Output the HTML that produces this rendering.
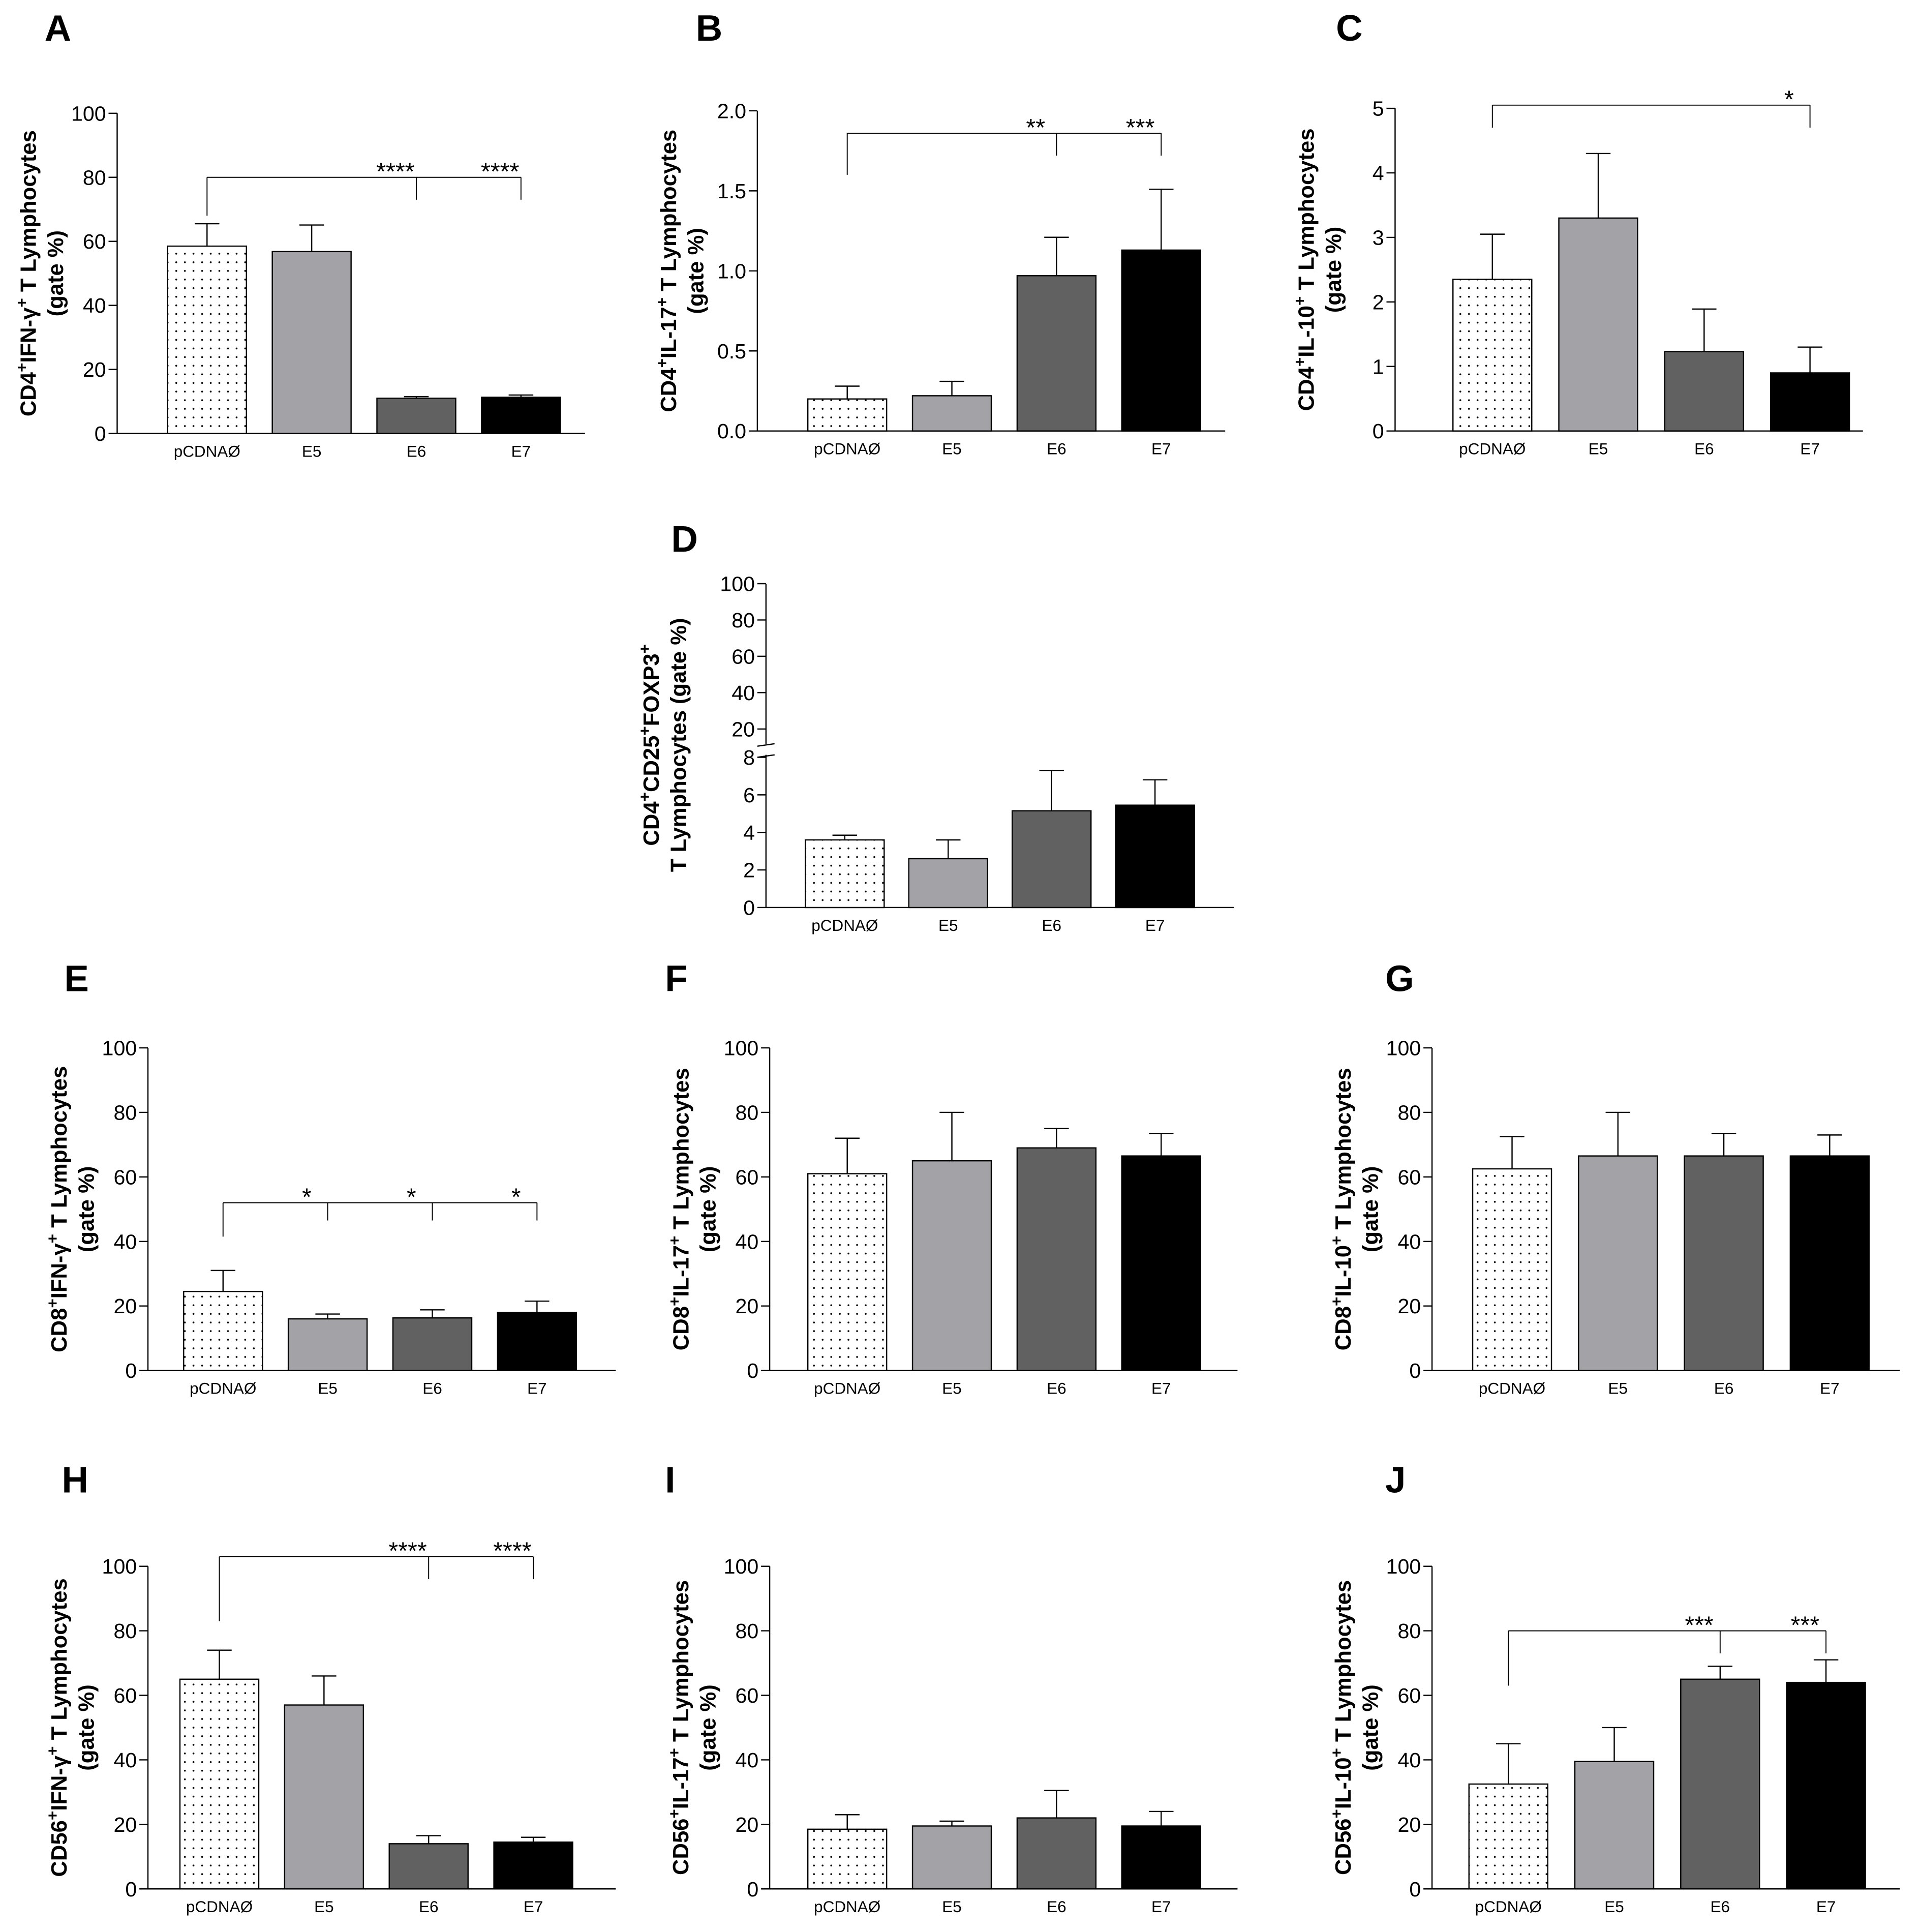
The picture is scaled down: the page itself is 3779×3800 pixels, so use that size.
<!DOCTYPE html>
<html><head><meta charset="utf-8"><style>
html,body{margin:0;padding:0;background:#fff}
svg{display:block}
text{font-family:"Liberation Sans",sans-serif}
</style></head><body>
<svg id="fig" xmlns="http://www.w3.org/2000/svg" width="3779" height="3800" viewBox="0 0 1560 1569">
<defs><pattern id="dots" width="7" height="7" patternUnits="userSpaceOnUse"><rect width="7" height="7" fill="#fff"/><circle cx="3" cy="3" r="0.75" fill="#000"/></pattern></defs>
</svg>
<script>
const cats=['pCDNAØ','E5','E6','E7'];
const aMeans=[58.5,56.8,11,11.3], aErrs=[7,8.3,0.5,0.7];
const bMeans=[0.2,0.22,0.97,1.13], bErrs=[0.08,0.09,0.24,0.38];
const cMeans=[2.35,3.3,1.23,0.9], cErrs=[0.7,1.0,0.66,0.4];
const dMeans=[3.6,2.6,5.15,5.45], dErrs=[0.25,1.0,2.15,1.35];
const eMeans=[24.5,16,16.3,18], eErrs=[6.5,1.5,2.5,3.5];
const fMeans=[61,65,69,66.5], fErrs=[11,15,6,7];
const gMeans=[62.5,66.5,66.5,66.5], gErrs=[10,13.5,7,6.5];
const hMeans=[65,57,14,14.5], hErrs=[9,9,2.5,1.5];
const iMeans=[18.5,19.5,22,19.5], iErrs=[4.5,1.5,8.5,4.5];
const jMeans=[32.5,39.5,65,64], jErrs=[12.5,10.5,4,7];
const pctTicks=[0,20,40,60,80,100];
const bTicks=['0.0','0.5','1.0','1.5','2.0'];
const cTicks=[0,1,2,3,4,5];
const dTicks=[0,2,4,6,8,20,40,60,80,100];
const fills=['url(#dots)','#a3a2a7','#616161','#000'];
const NS='http://www.w3.org/2000/svg';
const svg=document.getElementById('fig');
function el(t,a,p){const e=document.createElementNS(NS,t);for(const k in a)e.setAttribute(k,a[k]);(p||svg).appendChild(e);return e;}
const panels=[
 {id:'a',L:'A',lx:36,ly:33,ax:95,y0:352,yT:92,max:100,ticks:pctTicks,first:73,sp:85,m:aMeans,e:aErrs,t1:['CD4','+','IFN-γ','+',' T Lymphocytes'],sig:{y:80,l:68,r:73,idx:[2,3],s:['****','****']}},
 {id:'b',L:'B',lx:565,ly:33,ax:615,y0:350,yT:90,max:2,ticks:bTicks,first:73,sp:85,m:bMeans,e:bErrs,t1:['CD4','+','IL-17','+',' T Lymphocytes'],sig:{y:1.86,l:1.6,r:1.72,idx:[2,3],s:['**','***']}},
 {id:'c',L:'C',lx:1085,ly:33,ax:1133,y0:350,yT:88,max:5,ticks:cTicks,first:79,sp:86,m:cMeans,e:cErrs,t1:['CD4','+','IL-10','+',' T Lymphocytes'],sig:{y:5.05,l:4.7,r:4.7,idx:[3],s:['*']}},
 {id:'d',L:'D',lx:545,ly:448,ax:622,y0:737,yT:474,max:100,broken:true,ticks:dTicks,first:64,sp:84,m:dMeans,e:dErrs,d:true},
 {id:'e',L:'E',lx:52,ly:805,ax:120,y0:1113,yT:851,max:100,ticks:pctTicks,first:61,sp:85,m:eMeans,e:eErrs,t1:['CD8','+','IFN-γ','+',' T Lymphocytes'],sig:{y:52,l:41.5,r:46.5,idx:[1,2,3],s:['*','*','*']}},
 {id:'f',L:'F',lx:540,ly:805,ax:625,y0:1113,yT:851,max:100,ticks:pctTicks,first:63,sp:85,m:fMeans,e:fErrs,t1:['CD8','+','IL-17','+',' T Lymphocytes']},
 {id:'g',L:'G',lx:1125,ly:805,ax:1163,y0:1113,yT:851,max:100,ticks:pctTicks,first:65,sp:86,m:gMeans,e:gErrs,t1:['CD8','+','IL-10','+',' T Lymphocytes']},
 {id:'h',L:'H',lx:50,ly:1212,ax:120,y0:1534,yT:1272,max:100,ticks:pctTicks,first:58,sp:85,m:hMeans,e:hErrs,t1:['CD56','+','IFN-γ','+',' T Lymphocytes'],sig:{y:103,l:83,r:96,idx:[2,3],s:['****','****']}},
 {id:'i',L:'I',lx:540,ly:1212,ax:625,y0:1534,yT:1272,max:100,ticks:pctTicks,first:63,sp:85,m:iMeans,e:iErrs,t1:['CD56','+','IL-17','+',' T Lymphocytes']},
 {id:'j',L:'J',lx:1125,ly:1212,ax:1163,y0:1534,yT:1272,max:100,ticks:pctTicks,first:62,sp:86,m:jMeans,e:jErrs,t1:['CD56','+','IL-10','+',' T Lymphocytes'],sig:{y:80,l:63,r:73,idx:[2,3],s:['***','***']}}
];
function ys(p,v){
 if(p.broken){return v<=8? p.y0-v/8*(p.y0-615) : 592-(v-20)/80*(592-474);}
 return p.y0-v/p.max*(p.y0-p.yT);
}
function xc(p,i){return p.ax+p.first+i*p.sp;}
function titleLine(g,parts,x,y){
 const t=el('text',{x:x,y:y,'text-anchor':'middle','font-size':18,'font-weight':'bold',transform:`rotate(-90 ${x} ${y})`},g);
 parts.forEach((s,k)=>{const sp=el('tspan',{},t);if(s==='+'){sp.setAttribute('baseline-shift','super');sp.setAttribute('font-size',13);}sp.textContent=s;});
 return t;
}
panels.forEach(p=>{
 const g=el('g',{});
 
 
 const lab=el('text',{x:p.lx,y:p.ly,'font-size':30,'font-weight':'bold'},g);lab.textContent=p.L;
 
 
 const xEnd=p.ax+380;
 if(p.broken){
  el('line',{x1:p.ax,y1:p.y0,x2:p.ax,y2:613,stroke:'#000','stroke-width':1},g);
  el('line',{x1:p.ax,y1:604,x2:p.ax,y2:ys(p,100),stroke:'#000','stroke-width':1},g);
  el('line',{x1:p.ax-7,y1:606,x2:p.ax+7,y2:604,stroke:'#000'},g);
  el('line',{x1:p.ax-7,y1:615,x2:p.ax+7,y2:613,stroke:'#000'},g);
 } else el('line',{x1:p.ax,y1:p.y0,x2:p.ax,y2:p.yT,stroke:'#000','stroke-width':1},g);
 const xa=el('line',{x1:p.ax,y1:p.y0,x2:xEnd,y2:p.y0,stroke:'#000','stroke-width':1},g);
 
 
 p.ticks.forEach(tk=>{
  const v=parseFloat(tk),y=ys(p,v);
  el('line',{x1:p.ax-7,y1:y,x2:p.ax,y2:y,stroke:'#000'},g);
  const t=el('text',{x:p.ax-9,y:y+6,'text-anchor':'end','font-size':17},g);t.textContent=tk;
  
  
 });
 if(p.d){
  titleLine(g,['CD4','+','CD25','+','FOXP3','+'],p.ax-87,605);
  titleLine(g,['T Lymphocytes (gate %)'],p.ax-65,605);
 } else {
  const cy=(p.y0+p.yT)/2;
  const t1=titleLine(g,p.t1,p.ax-66,cy);
  
  
  titleLine(g,['(gate %)'],p.ax-44,cy);
 }
 const bw=64;
 p.m.forEach((v,i)=>{
  const cx=xc(p,i),y=ys(p,v),ye=ys(p,v+p.e[i]);
  el('line',{x1:cx,y1:y,x2:cx,y2:ye,stroke:'#000'},g);
  el('line',{x1:cx-10,y1:ye,x2:cx+10,y2:ye,stroke:'#000'},g);
  const r=el('rect',{x:cx-bw/2,y:y,width:bw,height:p.y0-y,fill:fills[i],stroke:'#000','stroke-width':1},g);
  
  
  const t=el('text',{x:cx,y:p.y0+19,'text-anchor':'middle','font-size':13},g);t.textContent=cats[i];
  
  
 });
 if(p.sig){
  const s=p.sig,yb=ys(p,s.y),x0=xc(p,0),xr=xc(p,s.idx[s.idx.length-1]);
  el('line',{x1:x0,y1:yb,x2:xr,y2:yb,stroke:'#000','stroke-width':0.8},g);
  el('line',{x1:x0,y1:yb,x2:x0,y2:ys(p,s.l),stroke:'#000','stroke-width':0.8},g);
  s.idx.forEach((ix,k)=>{
   const x=xc(p,ix);
   el('line',{x1:x,y1:yb,x2:x,y2:ys(p,s.r),stroke:'#000','stroke-width':0.8},g);
   const t=el('text',{x:x-17,y:yb+2,'text-anchor':'middle','font-size':20},g);t.textContent=s.s[k];
   
   
  });
 }
});
</script>
</body></html>
